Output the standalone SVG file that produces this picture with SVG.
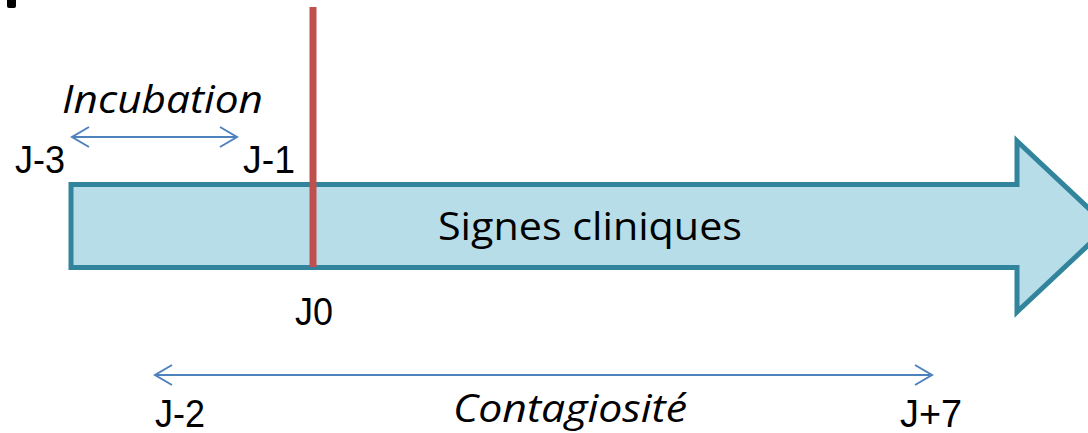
<svg xmlns="http://www.w3.org/2000/svg" width="1088" height="433" viewBox="0 0 1088 433">
<style>
.t{font-family:"Open Sans","Liberation Sans",sans-serif;font-size:39px;fill:#000}
.j{font-family:"Liberation Sans","Open Sans",sans-serif;font-size:39px;fill:#000}
.i{font-style:italic}
.c{stroke:#4F81BD;stroke-width:2;fill:none}
</style>
<defs>
<marker id="ah" markerUnits="userSpaceOnUse" markerWidth="24" markerHeight="24" viewBox="-20 -12 24 24" refX="0" refY="0" orient="auto-start-reverse">
<path d="M-17,-10 L0,0 L-17,10" fill="none" stroke="#4F81BD" stroke-width="2"/>
</marker>
</defs>
<rect width="1088" height="433" fill="#fff"/>
<path d="M7,0 H16 V6 Q16,8 14,8 H9 Q7,8 7,6 Z" fill="#000"/>
<g id="timeline">
<polygon points="71,184.5 1017,184.5 1017,141 1108,226.5 1017,312 1017,267.5 71,267.5" fill="#B7DDE8" stroke="#31849B" stroke-width="5"/>
<text class="t" x="590" y="240" text-anchor="middle" textLength="304" lengthAdjust="spacingAndGlyphs">Signes cliniques</text>
</g>
<g id="j0-line">
<rect x="309.5" y="7" width="7" height="260" fill="#C0504D"/>
</g>
<g id="connectors">
<line class="c" x1="72" y1="137" x2="237" y2="137" marker-start="url(#ah)" marker-end="url(#ah)"/>
<line class="c" x1="155" y1="375" x2="932" y2="375" marker-start="url(#ah)" marker-end="url(#ah)"/>
</g>
<g id="incubation">
<text class="t i" x="62" y="113" textLength="201" lengthAdjust="spacingAndGlyphs">Incubation</text>
</g>
<g id="contagiosite">
<text class="t i" x="453" y="422" textLength="234" lengthAdjust="spacingAndGlyphs">Contagiosité</text>
</g>
<g id="labels">
<text class="j" x="15" y="173" textLength="50" lengthAdjust="spacingAndGlyphs">J-3</text>
<text class="j" x="243" y="173" textLength="52" lengthAdjust="spacingAndGlyphs">J-1</text>
<text class="j" x="295" y="325" textLength="38" lengthAdjust="spacingAndGlyphs">J0</text>
<text class="j" x="155" y="427" textLength="50" lengthAdjust="spacingAndGlyphs">J-2</text>
<text class="j" x="900" y="427" textLength="62" lengthAdjust="spacingAndGlyphs">J+7</text>
</g>
</svg>
